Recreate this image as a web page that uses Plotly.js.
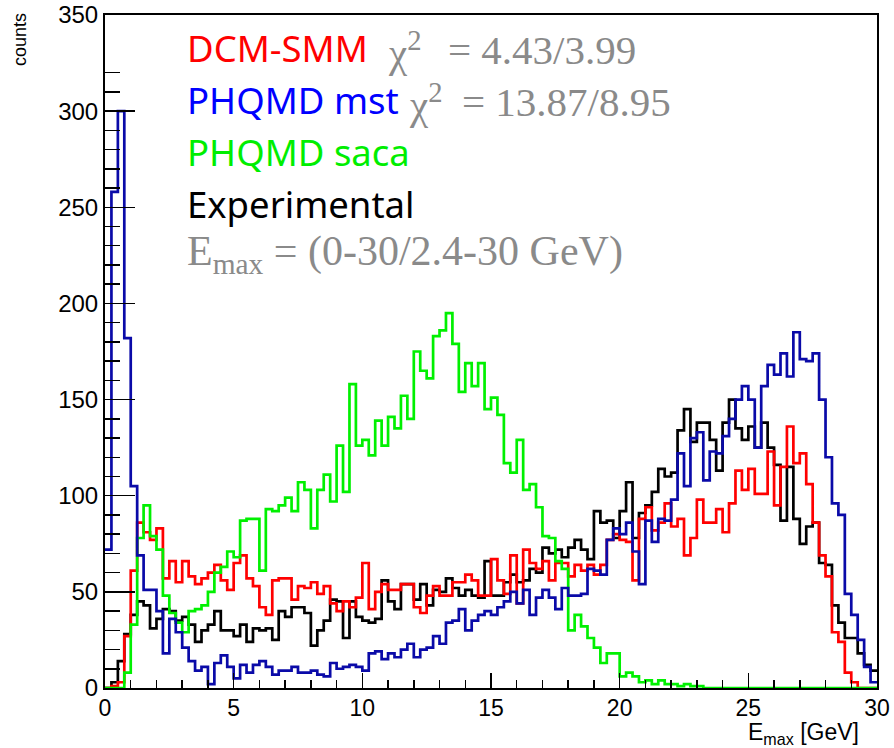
<!DOCTYPE html>
<html>
<head>
<meta charset="utf-8">
<script src="https://cdn.plot.ly/plotly-3.0.1.min.js"></script>
<style>
  html, body { margin: 0; padding: 0; background: #ffffff; }
  #chart { width: 894px; height: 748px; }
</style>
</head>
<body>
<div id="chart"></div>
<script>
// Histogram binning: 120 bins of 0.25 GeV from 0 to 30 GeV
const binLow = 0;
const binWidth = 0.25;

// DCM-SMM counts per bin
const dcmSmm = [
  0, 1, 3, 27, 61, 86, 81, 77, 83, 57,
  66, 55, 66, 58, 54, 57, 60, 64, 56, 51,
  65, 69, 57, 53, 42, 38, 56, 57, 57, 46,
  53, 52, 55, 49, 53, 44, 40, 45, 42, 47,
  65, 41, 50, 54, 51, 51, 54, 54, 42, 39,
  48, 53, 48, 48, 55, 55, 59, 56, 48, 48,
  67, 56, 49, 69, 44, 72, 65, 62, 66, 56,
  65, 65, 58, 64, 61, 64, 59, 64, 77, 80,
  77, 76, 56, 88, 94, 82, 86, 96, 84, 88,
  69, 78, 98, 86, 86, 93, 81, 96, 113, 103,
  114, 101, 101, 123, 95, 115, 136, 117, 122, 106,
  86, 69, 58, 29, 24, 8, 3, 0, 0, 0
];

// PHQMD mst counts per bin
const phqmdMst = [
  72, 258, 300, 182, 105, 69, 51, 51, 40, 18,
  36, 29, 21, 14, 9, 11, 2, 13, 17, 11,
  5, 12, 8, 12, 14, 11, 7, 9, 9, 11,
  8, 8, 9, 7, 6, 13, 10, 11, 12, 11,
  9, 18, 19, 15, 18, 16, 20, 23, 16, 20,
  21, 27, 23, 34, 35, 41, 30, 35, 38, 40,
  38, 42, 45, 50, 44, 51, 38, 47, 51, 47,
  41, 52, 48, 48, 49, 62, 61, 59, 77, 83,
  80, 86, 71, 54, 87, 76, 88, 87, 98, 122,
  105, 130, 133, 108, 123, 122, 131, 140, 150, 157,
  150, 125, 157, 168, 163, 174, 162, 185, 171, 170,
  174, 150, 120, 96, 90, 49, 38, 25, 11, 3
];

// PHQMD saca counts per bin
const phqmdSaca = [
  0, 0, 0, 8, 33, 78, 95, 79, 72, 48,
  39, 34, 29, 40, 41, 43, 50, 60, 63, 71,
  68, 87, 88, 88, 61, 93, 92, 95, 99, 92,
  107, 103, 83, 103, 111, 97, 126, 102, 158, 126,
  129, 121, 139, 126, 141, 135, 152, 140, 175, 165,
  161, 183, 186, 195, 179, 154, 169, 157, 169, 145,
  151, 142, 117, 112, 129, 103, 106, 94, 79, 78,
  66, 62, 30, 38, 32, 26, 21, 13, 18, 18,
  6, 8, 6, 3, 4, 2, 4, 2, 2, 1,
  2, 1, 1, 0, 0, 0, 0, 0, 0, 0,
  0, 0, 0, 0, 0, 0, 0, 0, 0, 0,
  0, 0, 0, 0, 0, 0, 0, 0, 0, 0
];

// Experimental counts per bin
const experimental = [
  0, 3, 14, 28, 38, 45, 43, 31, 36, 41,
  40, 35, 37, 33, 24, 30, 33, 40, 30, 30,
  27, 33, 24, 31, 30, 31, 25, 40, 37, 42,
  42, 39, 22, 30, 35, 46, 45, 26, 45, 37,
  35, 34, 36, 56, 45, 41, 54, 54, 46, 54,
  43, 51, 50, 57, 52, 48, 51, 48, 47, 66,
  48, 48, 55, 59, 55, 56, 62, 60, 73, 70,
  72, 68, 73, 77, 72, 67, 92, 86, 87, 78,
  92, 107, 78, 91, 95, 102, 114, 110, 112, 134,
  145, 128, 138, 138, 129, 113, 138, 150, 135, 129,
  136, 125, 138, 125, 116, 87, 115, 88, 75, 84,
  86, 65, 64, 43, 34, 26, 26, 18, 12, 9
];

// Tick values and legend text
const xTickVals = [0, 5, 10, 15, 20, 25, 30];
const yTickVals = [0, 50, 100, 150, 200, 250, 300, 350];
const modelNames = ['DCM-SMM', 'PHQMD mst', 'PHQMD saca', 'Experimental'];
const modelColors = ['#ff0000', '#0000ff', '#00ee00', '#000000'];
const chiValues = ['4.43/3.99', '13.87/8.95', null, null];
const rangeText = '(0-30/2.4-30 GeV)';

// Build outline (step) coordinates from the bin contents
function stepTrace(values, color) {
  const xs = [], ys = [];
  for (let i = 0; i < values.length; i++) {
    xs.push(binLow + i * binWidth);
    ys.push(values[i]);
  }
  xs.push(binLow + values.length * binWidth);
  ys.push(values[values.length - 1]);
  return {
    x: xs, y: ys, type: 'scatter', mode: 'lines',
    line: { shape: 'hv', color: color, width: 2.7 },
    hoverinfo: 'skip', showlegend: false
  };
}

const traces = [
  stepTrace(experimental, '#000000'),
  stepTrace(dcmSmm, '#ff0000'),
  stepTrace(phqmdSaca, '#00f000'),
  stepTrace(phqmdMst, '#0a0aa8'),
  // empty trace that carries the short title axis at the top of the y scale
  { x: [], y: [], type: 'scatter', mode: 'lines', yaxis: 'y2', hoverinfo: 'skip', showlegend: false }
];

// frame geometry (pixels)
const plotL = 104.5, plotR = 877.5, plotT = 15, plotB = 688;
const pw = plotR - plotL, ph = plotB - plotT;
const px = v => (v - plotL) / pw;
const py = v => (plotB - v) / ph;

const sansFam = 'Noto Sans';
const serifFam = 'Liberation Serif';
const gray = '#8a8a8a';

function note(x, y, text, size, family, color, xanchor) {
  return {
    xref: 'paper', yref: 'paper', x: px(x), y: py(y),
    xanchor: xanchor || 'left', yanchor: 'middle', showarrow: false,
    text: text, font: { size: size, family: family, color: color }
  };
}

const annotations = [];
const lineCenters = [48, 100, 152, 204];
const chiX = [386, 407];
const eqX = [446, 460];
modelNames.forEach((name, k) => {
  annotations.push(note(185, lineCenters[k], name, 36.5, sansFam, modelColors[k]));
  if (chiValues[k]) {
    annotations.push(note(chiX[k], lineCenters[k] + 2, '&#967;<sup>2</sup>', 41, serifFam, gray));
    annotations.push(note(eqX[k], lineCenters[k] + 2, '= ' + chiValues[k], 41, serifFam, gray));
  }
});
annotations.push(note(185, 254, 'E<sub>max</sub> = ' + rangeText, 42, serifFam, gray));
annotations.push(note(861, 733, 'E<sub>max</sub> [GeV]', 23, 'Liberation Sans', '#000', 'right'));

const layout = {
  width: 894, height: 748,
  margin: { l: plotL, r: 894 - plotR, t: plotT, b: 748 - plotB, pad: 0 },
  paper_bgcolor: '#ffffff', plot_bgcolor: '#ffffff',
  showlegend: false,
  xaxis: {
    range: [0, 30], tickvals: xTickVals, ticktext: xTickVals.map(String),
    ticks: 'inside', ticklen: 15, tickwidth: 1.5, tickcolor: '#000',
    minor: { ticks: 'inside', dtick: 1, ticklen: 8, tickwidth: 1.5, tickcolor: '#000' },
    showline: true, linecolor: '#000', linewidth: 2, mirror: true,
    showgrid: false, zeroline: false, ticklabelstandoff: -2,
    tickfont: { size: 23, family: 'Liberation Sans', color: '#000' }
  },
  yaxis: {
    range: [0, 350], tickvals: yTickVals, ticktext: yTickVals.map(String),
    ticks: 'inside', ticklen: 30, tickwidth: 1.5, tickcolor: '#000',
    minor: { ticks: 'inside', dtick: 10, ticklen: 15, tickwidth: 1.5, tickcolor: '#000' },
    showline: true, linecolor: '#000', linewidth: 2, mirror: true,
    showgrid: false, zeroline: false,
    tickfont: { size: 24, family: 'Liberation Sans', color: '#000' }
  },
  // short invisible axis spanning the top of the frame; its title is the y label
  yaxis2: {
    domain: [py(64), 1], anchor: 'free', position: 0, side: 'left',
    range: [0, 1], fixedrange: true,
    showline: false, showticklabels: false, ticks: '', showgrid: false, zeroline: false,
    title: { text: 'counts', font: { size: 18, family: 'Liberation Sans', color: '#000' }, standoff: 72 }
  },
  annotations: annotations
};

Plotly.newPlot('chart', traces, layout, { staticPlot: true, displayModeBar: false });
</script>
</body>
</html>
